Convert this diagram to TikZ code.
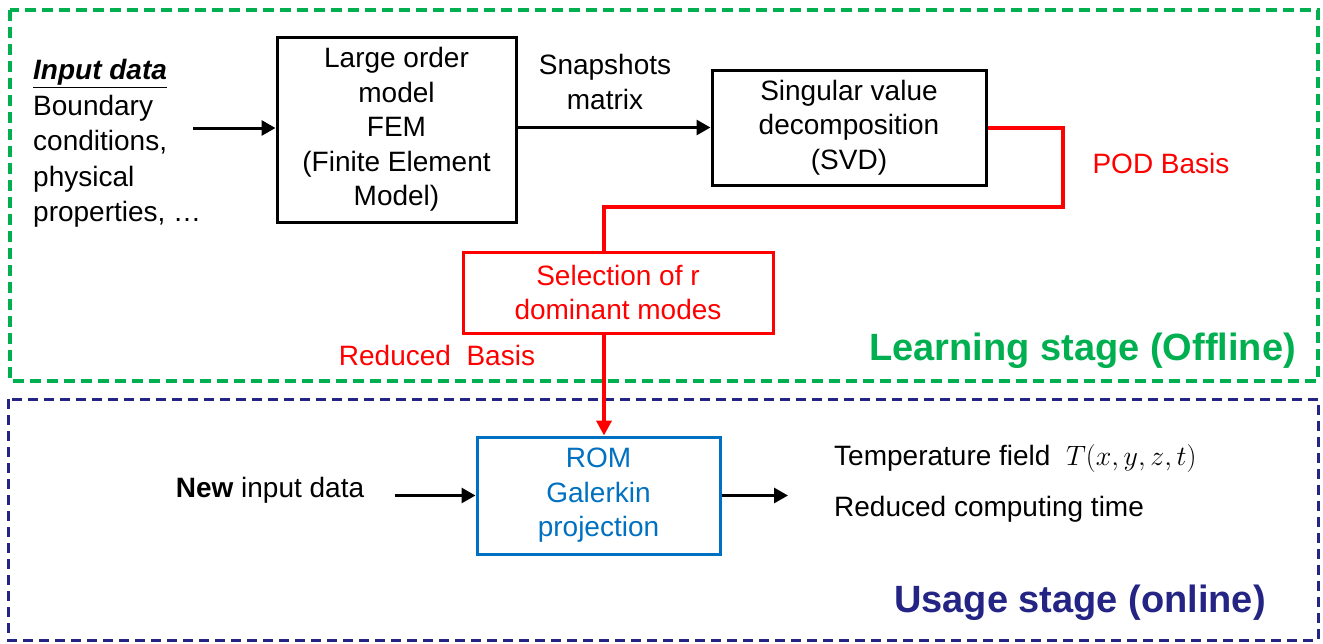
\RequirePackage{fix-cm}
\documentclass[tikz,border=0pt]{standalone}
\usepackage{fontspec}
\setmainfont{Liberation Sans}
\usetikzlibrary{arrows.meta}
\usetikzlibrary{positioning}
\definecolor{stagegreen}{RGB}{0,176,80}
\definecolor{stagenavy}{RGB}{36,36,132}
\definecolor{romblue}{RGB}{0,112,192}

\begin{document}
\begin{tikzpicture}[x=1pt,y=-1pt,
  txt/.style={font=\fontsize{28}{34.5}\selectfont,align=center,inner sep=0pt},
  blockbox/.style={txt,draw,line width=3pt},
  arr/.style={line width=3pt,-{Triangle[length=14pt,width=15pt]}},
  redline/.style={red,line width=4pt},
  stagefont/.style={font=\bfseries\fontsize{38}{40}\selectfont,inner sep=0pt}]
\useasboundingbox (0,0) rectangle (1323,643);

%stage frames
\draw[stagegreen,line width=4pt,dash pattern=on 11pt off 6pt](10,10) rectangle (1318,381);
\draw[stagenavy,line width=3pt,dash pattern=on 10pt off 6pt](8,399) rectangle (1318,640);
\node[stagefont,stagegreen,anchor=east] (learn) at (1296,351) {Learning stage (Offline)};
\node[stagefont,stagenavy,anchor=east] (usage) at (1266,603) {Usage stage (online)};

%offline blocks
\node[txt,anchor=north west,align=left,font=\fontsize{28}{35.5}\selectfont] (input) at (33,59.5)
  {\underline{\textbf{\textit{Input data}}}\\Boundary\\conditions,\\physical\\properties, \dots};
\node[blockbox,minimum width=239pt,minimum height=185pt] (fem) at (396.5,129.5)
  {Large order\\model\\FEM\\(Finite Element\\Model)};
\node[blockbox,minimum width=274pt,minimum height=115pt] (svd) at (849,127.5)
  {Singular value\\decomposition\\(SVD)};
\node[blockbox,red,minimum width=310pt,minimum height=81pt] (sel) at (618,292.5)
  {Selection of r\\dominant modes};
\node[txt] (snap) at (605,82) {Snapshots\\matrix};
\node[txt,red] (pod) at (1161,163) {POD Basis};
\node[txt,red] (redbasis) at (437,355) {Reduced\ \ Basis};

\coordinate (inputend) at (193,128);
\draw[arr](inputend)--(inputend -| fem.west);
\draw[arr](fem.east |- svd.west)--(svd.west);
%POD basis path
\coordinate (podturn) at (1063,207);
\draw[redline](svd.east)-|(podturn)-|([xshift=-14pt]sel.north);

%online blocks
\node[blockbox,draw=romblue,text=romblue,minimum width=243pt,minimum height=117pt] (rom) at (598.5,495.5)
  {ROM\\Galerkin\\projection};
\node[txt] (newin) at (270,490) {\textbf{New} input data};
\node[txt,anchor=west] (temp) at (834,458) {Temperature field\ \ $T(x,y,z,t)$};
\node[txt,anchor=west] (time) at (834,509) {Reduced computing time};

%reduced basis to ROM
\draw[redline,-{Triangle[length=15pt,width=15pt]}]([xshift=-14pt]sel.south)--([xshift=-14pt]sel.south |- rom.north);
\coordinate (newstart) at (395,495.5);
\coordinate (outend) at (788,495.5);
\draw[arr](newstart)--(rom.west);
\draw[arr](rom.east)--(outend);
\end{tikzpicture}
\end{document}
